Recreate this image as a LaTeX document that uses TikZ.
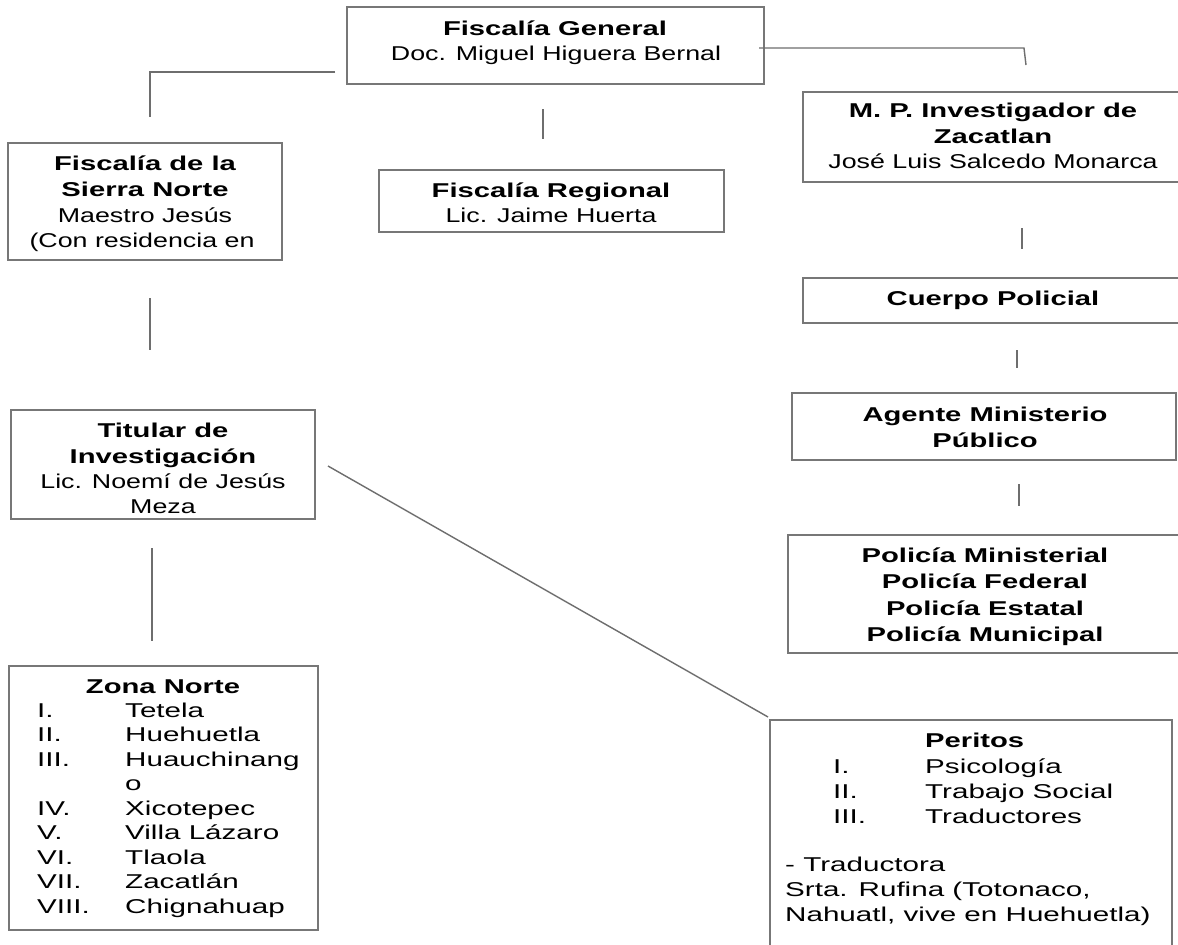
\documentclass[tikz,border=0pt]{standalone}
\usepackage{fontspec}
\setmainfont{Liberation Sans}[FakeStretch=1.34,BoldFeatures={FakeStretch=1.46}]
\newfontfamily\listfont{Liberation Sans}[FakeStretch=1.48,BoldFeatures={FakeStretch=1.46}]
\definecolor{boxgray}{HTML}{777777}
\definecolor{linegray}{HTML}{6E6E6E}
\tikzset{
  box/.style={draw=boxgray, line width=1.4pt, rectangle, inner sep=0pt},
  conn/.style={draw=linegray, line width=1.4pt},
  txt/.style={inner sep=0pt, font=\fontsize{20}{24}\selectfont, text=black, anchor=base},
  btxt/.style={txt, font=\fontsize{20}{24}\selectfont\bfseries},
  ltxt/.style={txt, anchor=base west, font=\fontsize{20}{24}\selectfont\listfont},
}
\begin{document}
\begin{tikzpicture}[x=1pt,y=-1pt]
\useasboundingbox (0,0) rectangle (1178,945);
\clip (0,0) rectangle (1178,945);
\fill[white] (0,0) rectangle (1178,945);

% ---------- boxes ----------
\node[box, minimum width=417pt, minimum height=77pt] (fg) at (555.5,45.5) {};
\node[box, minimum width=274pt, minimum height=117pt] (sierra) at (145,201.5) {};
\node[box, minimum width=345pt, minimum height=62pt] (reg) at (551.5,201) {};
\node[box, minimum width=380pt, minimum height=90pt] (mp) at (993,137) {};
\node[box, minimum width=380pt, minimum height=45pt] (cuerpo) at (993,300.5) {};
\node[box, minimum width=384pt, minimum height=67pt] (agente) at (984,426.5) {};
\node[box, minimum width=394pt, minimum height=118pt] (pol) at (985,594) {};
\node[box, minimum width=304pt, minimum height=109pt] (tit) at (163,464.5) {};
\node[box, minimum width=309pt, minimum height=264pt] (zona) at (163.5,798) {};
\node[box, minimum width=402pt, minimum height=240pt] (per) at (971,840) {};

% ---------- connectors ----------
\coordinate (fgL1) at (335,72);
\coordinate (fgL2) at (150,72);
\coordinate (fgL3) at (150,117);
\draw[conn] (fgL1) -- (fgL2) -- (fgL3);
\coordinate (fgR1) at (759,48);
\coordinate (fgR2) at (1024,48);
\coordinate (fgR3) at (1026,65);
\draw[conn] (fgR1) -- (fgR2) -- (fgR3);
\coordinate (fgM1) at (543,109);
\coordinate (fgM2) at (543,139);
\draw[conn] (fgM1) -- (fgM2);
\coordinate (sT1) at (150,298);
\coordinate (sT2) at (150,350);
\draw[conn] (sT1) -- (sT2);
\coordinate (tZ1) at (152,548);
\coordinate (tZ2) at (152,641);
\draw[conn] (tZ1) -- (tZ2);
\coordinate (tP1) at (328,466);
\coordinate (tP2) at (768,717);
\draw[conn] (tP1) -- (tP2);
\coordinate (mC1) at (1022,228);
\coordinate (mC2) at (1022,249);
\draw[conn] (mC1) -- (mC2);
\coordinate (cA1) at (1017,350);
\coordinate (cA2) at (1017,368);
\draw[conn] (cA1) -- (cA2);
\coordinate (aP1) at (1019,484);
\coordinate (aP2) at (1019,506);
\draw[conn] (aP1) -- (aP2);

% ---------- texts ----------
\node[btxt] (fg1) at (555,35) {Fiscalía General};
\node[txt] (fg2) at (556,60) {Doc. Miguel Higuera Bernal};

\node[btxt] (si1) at (145,170) {Fiscalía de la};
\node[btxt] (si2) at (145,196) {Sierra Norte};
\node[txt] (si3) at (145,222) {Maestro Jesús};
\node[txt] (si4) at (142,247) {(Con residencia en};

\node[btxt] (re1) at (551,197) {Fiscalía Regional};
\node[txt] (re2) at (551,222) {Lic. Jaime Huerta};

\node[btxt] (mp1) at (993,117) {M. P. Investigador de};
\node[btxt] (mp2) at (993,143) {Zacatlan};
\node[txt] (mp3) at (993,168) {José Luis Salcedo Monarca};

\node[btxt] (cu1) at (993,305) {Cuerpo Policial};

\node[btxt] (ag1) at (985,421) {Agente Ministerio};
\node[btxt] (ag2) at (985,447) {Público};

\node[btxt] (po1) at (985,562) {Policía Ministerial};
\node[btxt] (po2) at (985,588) {Policía Federal};
\node[btxt] (po3) at (985,615) {Policía Estatal};
\node[btxt] (po4) at (985,641) {Policía Municipal};

\node[btxt] (ti1) at (163,437) {Titular de};
\node[btxt] (ti2) at (163,463) {Investigación};
\node[txt] (ti3) at (163,488) {Lic. Noemí de Jesús};
\node[txt] (ti4) at (163,513) {Meza};

\node[btxt] (zn0) at (163,693) {Zona Norte};
\node[ltxt] (zr1) at (37,717) {I.};      \node[ltxt] (zn1) at (125,717) {Tetela};
\node[ltxt] (zr2) at (37,741.5) {II.};   \node[ltxt] (zn2) at (125,741.5) {Huehuetla};
\node[ltxt] (zr3) at (37,766) {III.};    \node[ltxt] (zn3) at (125,766) {Huauchinang};
                                          \node[ltxt] (zn3b) at (125,790.5) {o};
\node[ltxt] (zr4) at (37,815) {IV.};     \node[ltxt] (zn4) at (125,815) {Xicotepec};
\node[ltxt] (zr5) at (37,839.5) {V.};    \node[ltxt] (zn5) at (125,839.5) {Villa Lázaro};
\node[ltxt] (zr6) at (37,864) {VI.};     \node[ltxt] (zn6) at (125,864) {Tlaola};
\node[ltxt] (zr7) at (37,888.5) {VII.};  \node[ltxt] (zn7) at (125,888.5) {Zacatlán};
\node[ltxt] (zr8) at (37,913) {VIII.};   \node[ltxt] (zn8) at (125,913) {Chignahuap};

\node[ltxt, font=\fontsize{20}{24}\selectfont\bfseries] (pe0) at (925,747) {Peritos};
\node[ltxt] (pr1) at (833,773) {I.};    \node[ltxt] (pe1) at (925,773) {Psicología};
\node[ltxt] (pr2) at (833,798) {II.};   \node[ltxt] (pe2) at (925,798) {Trabajo Social};
\node[ltxt] (pr3) at (833,823) {III.};  \node[ltxt] (pe3) at (925,823) {Traductores};
\node[ltxt] (pe4) at (785,871) {- Traductora};
\node[ltxt] (pe5) at (785,896) {Srta. Rufina (Totonaco,};
\node[ltxt] (pe6) at (785,921) {Nahuatl, vive en Huehuetla)};
\end{tikzpicture}
\end{document}
